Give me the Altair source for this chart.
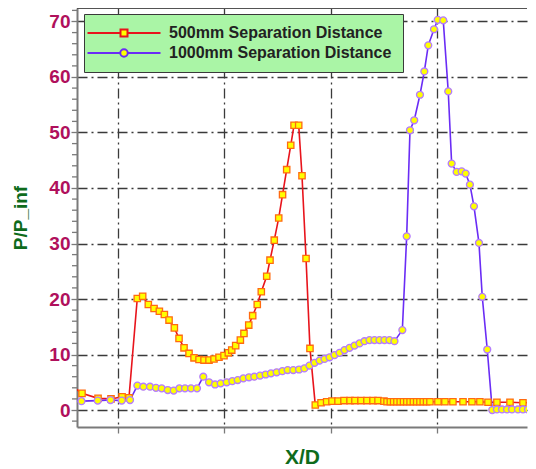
import altair as alt
import pandas as pd

S500 = "500mm Separation Distance"
S1000 = "1000mm Separation Distance"

x500 = [0.567, 0.661, 0.812, 0.934, 1.038, 1.103, 1.181, 1.232, 1.285, 1.339, 1.389, 1.436, 1.480,
        1.530, 1.574, 1.621, 1.668, 1.715, 1.762, 1.809, 1.856, 1.903, 1.950, 1.997, 2.038, 2.070,
        2.107, 2.151, 2.185, 2.230, 2.267, 2.310, 2.348, 2.399, 2.430, 2.470, 2.512, 2.548, 2.587,
        2.625, 2.656, 2.700, 2.731, 2.769, 2.806, 2.856, 2.910, 2.963, 3.013, 3.070, 3.126, 3.183,
        3.229, 3.286, 3.342, 3.399, 3.446, 3.502, 3.531, 3.562, 3.593, 3.624, 3.655, 3.686, 3.717,
        3.748, 3.779, 3.810, 3.841, 3.872, 3.903, 3.935, 4.010, 4.076, 4.151, 4.246, 4.330, 4.405,
        4.481, 4.565, 4.688, 4.810, 4.904]
y500 = [4.3, 3.0, 2.1, 2.0, 2.4, 2.2, 20.1, 20.5, 19.0, 18.3, 17.8, 17.2, 16.2,
        14.8, 12.9, 11.2, 10.2, 9.4, 9.1, 9.0, 9.0, 9.2, 9.5, 9.8, 10.3, 10.8,
        11.6, 12.6, 13.8, 15.3, 17.0, 19.0, 21.3, 24.1, 27.0, 30.6, 34.6, 38.8, 43.3,
        47.7, 51.3, 51.3, 42.2, 27.3, 11.1, 0.9, 1.3, 1.5, 1.6, 1.6, 1.7, 1.7,
        1.7, 1.7, 1.7, 1.7, 1.7, 1.6, 1.5, 1.5, 1.5, 1.5, 1.5, 1.5, 1.5,
        1.5, 1.5, 1.5, 1.5, 1.5, 1.5, 1.5, 1.5, 1.5, 1.5, 1.5, 1.5, 1.5,
        1.4, 1.4, 1.4, 1.3, 1.3]

x1000 = [0.567, 0.656, 0.809, 0.929, 1.035, 1.113, 1.182, 1.238, 1.301, 1.357, 1.411, 1.468, 1.524,
         1.577, 1.630, 1.687, 1.743, 1.802, 1.856, 1.913, 1.966, 2.023, 2.075, 2.126, 2.179, 2.232,
         2.282, 2.336, 2.389, 2.439, 2.493, 2.546, 2.596, 2.649, 2.703, 2.753, 2.801, 2.849, 2.896,
         2.943, 2.990, 3.037, 3.084, 3.131, 3.178, 3.225, 3.272, 3.319, 3.366, 3.413, 3.460, 3.507,
         3.554, 3.601, 3.675, 3.716, 3.747, 3.787, 3.841, 3.882, 3.919, 3.973, 4.008, 4.060, 4.107,
         4.139, 4.186, 4.233, 4.271, 4.311, 4.349, 4.396, 4.427, 4.474, 4.521, 4.565, 4.613, 4.660,
         4.707, 4.763, 4.810, 4.857]
y1000 = [1.8, 1.6, 1.7, 1.8, 1.7, 1.8, 4.4, 4.2, 4.2, 4.0, 3.9, 3.6, 3.5,
         3.9, 3.9, 3.9, 3.9, 6.0, 5.0, 4.6, 4.8, 5.0, 5.2, 5.4, 5.7, 5.9,
         6.0, 6.2, 6.4, 6.6, 6.8, 7.0, 7.2, 7.2, 7.3, 7.5, 8.0, 8.5, 8.9,
         9.2, 9.5, 9.9, 10.3, 10.8, 11.2, 11.6, 12.0, 12.4, 12.6, 12.6, 12.6, 12.6,
         12.6, 12.4, 14.4, 31.3, 50.4, 52.2, 56.8, 61.0, 65.7, 68.6, 70.3, 70.2, 57.4,
         44.4, 42.9, 43.0, 42.6, 40.6, 36.7, 30.1, 20.4, 10.9, 0.0, 0.1, 0.1, 0.1,
         0.1, 0.1, 0.1, 0.1]

y_major = [0, 10, 20, 30, 40, 50, 60, 70]
y_minor = [-2, 2, 4, 6, 8, 12, 14, 16, 18, 22, 24, 26, 28, 32, 34, 36, 38, 42, 44, 46, 48,
           52, 54, 56, 58, 62, 64, 66, 68, 72]
x_grid = [1, 2, 3, 4]
Y_TOP = 72.43
Y_BOTTOM = -3.06

df = pd.concat([
    pd.DataFrame({"x": x500, "y": y500, "series": S500}),
    pd.DataFrame({"x": x1000, "y": y1000, "series": S1000}),
], ignore_index=True)
minor_df = pd.DataFrame({"v": y_minor})

FONT = "Liberation Sans"
GREEN = "#0e6b1c"
LABEL = "#b0105c"
RED = "#e8141c"
BLUE = "#6a2cf5"
GRID = "#3a3a3a"
AXIS = "#7a7a7a"

xscale = alt.Scale(domain=[0.614, 4.848], nice=False, zero=False)
yscale = alt.Scale(domain=[Y_BOTTOM, Y_TOP], nice=False, zero=False)

sq_path = "M-7.3,0H-0.7M0.7,0H7.3M-0.7,-0.7H0.7V0.7H-0.7Z"
ci_path = "M-7.3,0H-0.75M0.75,0H7.3M0.75,0A0.75,0.75,0,1,1,-0.75,0A0.75,0.75,0,1,1,0.75,0Z"

legend = alt.Legend(
    title=None,
    orient="none",
    legendX=7,
    legendY=6,
    fillColor="#aaf5a6",
    strokeColor="#3a3a3a",
    padding=11,
    symbolSize=100,
    symbolStrokeWidth=2,
    symbolOffset=21,
    symbolFillColor="#ffff00",
    symbolType=alt.ExprRef(expr=f"datum.value === '{S500}' ? '{sq_path}' : '{ci_path}'"),
    labelOffset=37,
    labelFont=FONT,
    labelFontSize=16,
    labelFontWeight="bold",
    labelColor="#222222",
    labelLimit=400,
    rowPadding=4,
)

x_axis = alt.Axis(
    values=x_grid, labels=False, ticks=True, tickSize=6, tickColor=AXIS, tickWidth=1.3,
    grid=True, gridDash=[10, 4, 2, 4], gridColor=GRID, gridWidth=1.3,
    domainColor=AXIS, domainWidth=2,
    title="X/D", titleFont=FONT, titleFontSize=21, titleFontWeight="bold",
    titleColor=GREEN, titlePadding=13,
)

y_axis = alt.Axis(
    values=y_major, labelOverlap=False,
    labelFont=FONT, labelFontSize=19, labelFontWeight="bold", labelColor=LABEL,
    labelPadding=1, tickSize=6, tickColor=AXIS, tickWidth=1.3,
    grid=True, gridDash=[10, 4, 2, 4], gridColor=GRID, gridWidth=1.3,
    domainColor=AXIS, domainWidth=2,
    title="P/P_inf", titleFont=FONT, titleFontSize=19, titleFontWeight="bold",
    titleColor=GREEN, titleX=-57, titleBaseline="middle",
)

lines = alt.Chart(df).mark_line(strokeWidth=1.6, clip=True).encode(
    x=alt.X("x:Q", scale=xscale, axis=x_axis),
    y=alt.Y("y:Q", scale=yscale, axis=y_axis),
    color=alt.Color("series:N", scale=alt.Scale(domain=[S500, S1000], range=[RED, BLUE]), legend=legend),
    order=alt.Order("x:Q"),
)

red_pts = alt.Chart(df).transform_filter(alt.datum.series == S500).mark_point(
    shape="square", size=40, filled=False, fill="#ffff00", fillOpacity=1,
    stroke="#ff6a10", strokeWidth=1.3, opacity=1, clip=True,
).encode(
    x=alt.X("x:Q", scale=xscale),
    y=alt.Y("y:Q", scale=yscale),
)

blue_pts = alt.Chart(df).transform_filter(alt.datum.series == S1000).mark_point(
    shape="circle", size=48, filled=False, fill="#ffff00", fillOpacity=1,
    stroke="#b47cff", strokeWidth=1.3, opacity=1, clip=True,
).encode(
    x=alt.X("x:Q", scale=xscale),
    y=alt.Y("y:Q", scale=yscale),
)

minor_ticks = alt.Chart(minor_df).mark_rule(color=AXIS, strokeWidth=1.3).encode(
    y=alt.Y("v:Q", scale=yscale),
    x=alt.value(-5),
    x2=alt.value(0),
)

top_border = alt.Chart(minor_df).mark_rule(color="#555555", strokeWidth=1).encode(
    y=alt.datum(Y_TOP, scale=yscale),
)

chart = alt.layer(lines, red_pts, blue_pts, minor_ticks, top_border).properties(
    width=450,
    height=419,
    autosize=alt.AutoSizeParams(type="none"),
    padding={"left": 69, "top": 0, "right": 1, "bottom": 46},
).configure_view(stroke=None)

chart.save("out.html", embed_options={"renderer": "svg", "actions": False})
